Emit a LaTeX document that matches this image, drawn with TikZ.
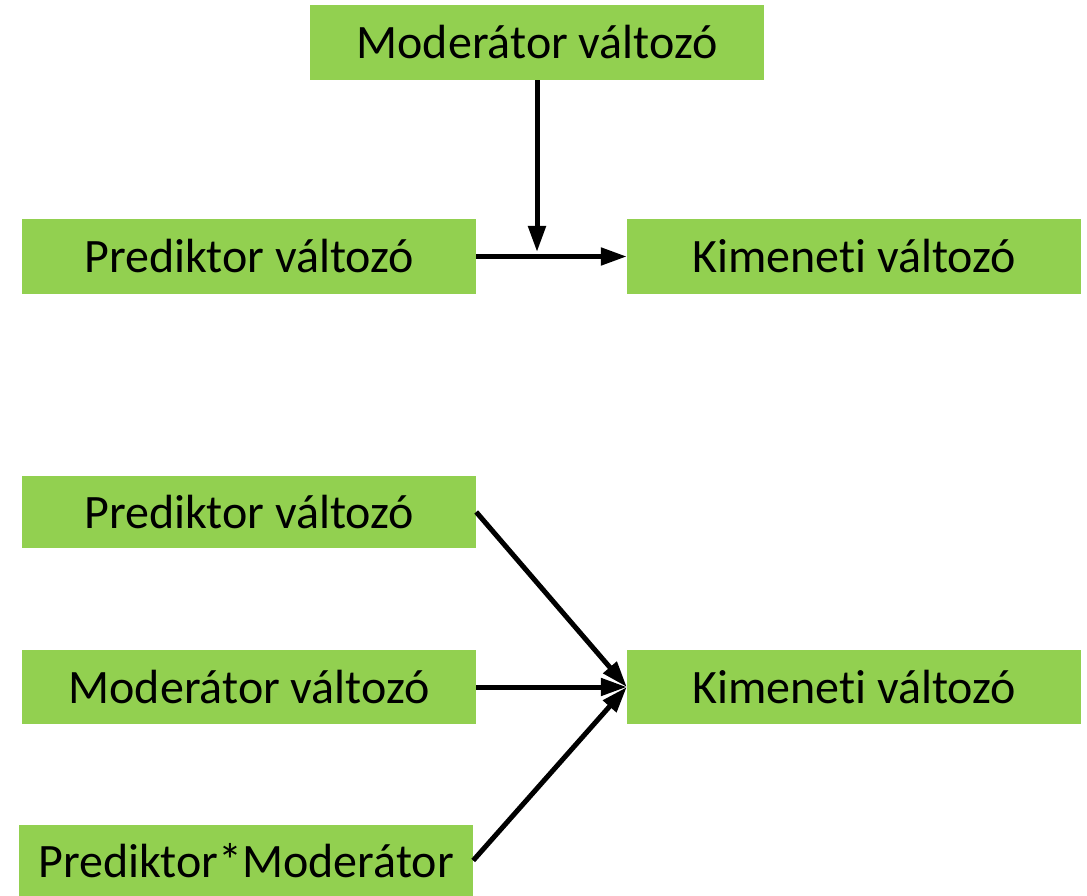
\documentclass[tikz,border=0pt]{standalone}
\usepackage{fontspec}
\setmainfont[Ligatures={NoCommon,NoRequired,NoContextual}]{Carlito}
\usepackage{tikz}
\usetikzlibrary{arrows.meta}
\definecolor{boxgreen}{RGB}{146,208,80}
\newcommand{\kimeneti}{Kimenet\kern0pt i változó}
\tikzset{
  varbox/.style={rectangle,fill=boxgreen,minimum width=454pt,minimum height=75pt,
    inner sep=0pt,font=\fontsize{48}{56}\selectfont},
  effect/.style={-{Triangle[length=26pt,width=17pt]},line width=5pt,black}
}
\begin{document}
\begin{tikzpicture}[x=1pt,y=-1pt]
  \useasboundingbox (0,0) rectangle (1087,896);
  % moderation model
  \node[varbox] (modtop) at (537,42.5) {Moderátor változó};
  \node[varbox] (pred1) at (249,256.5) {Prediktor változó};
  \node[varbox] (kim1) at (854,256.5) {\kimeneti};
  \coordinate (meet) at (537,252);
  \draw[effect] (modtop.south) -- (meet);
  \draw[effect] (pred1.east) -- (kim1.west);
  % regression form
  \node[varbox,minimum height=72pt] (pred2) at (249,512) {Prediktor változó};
  \node[varbox,minimum height=74pt] (mod2) at (249,687) {Moderátor változó};
  \node[varbox,minimum height=74pt] (kim2) at (854,687) {\kimeneti};
  \node[varbox,minimum height=71pt] (pm) at (246,860.5) {Prediktor*Moderátor};
  \draw[effect] (pred2.east) -- (kim2.west);
  \draw[effect] (mod2.east) -- (kim2.west);
  \draw[effect] (pm.east) -- (kim2.west);
\end{tikzpicture}
\end{document}
